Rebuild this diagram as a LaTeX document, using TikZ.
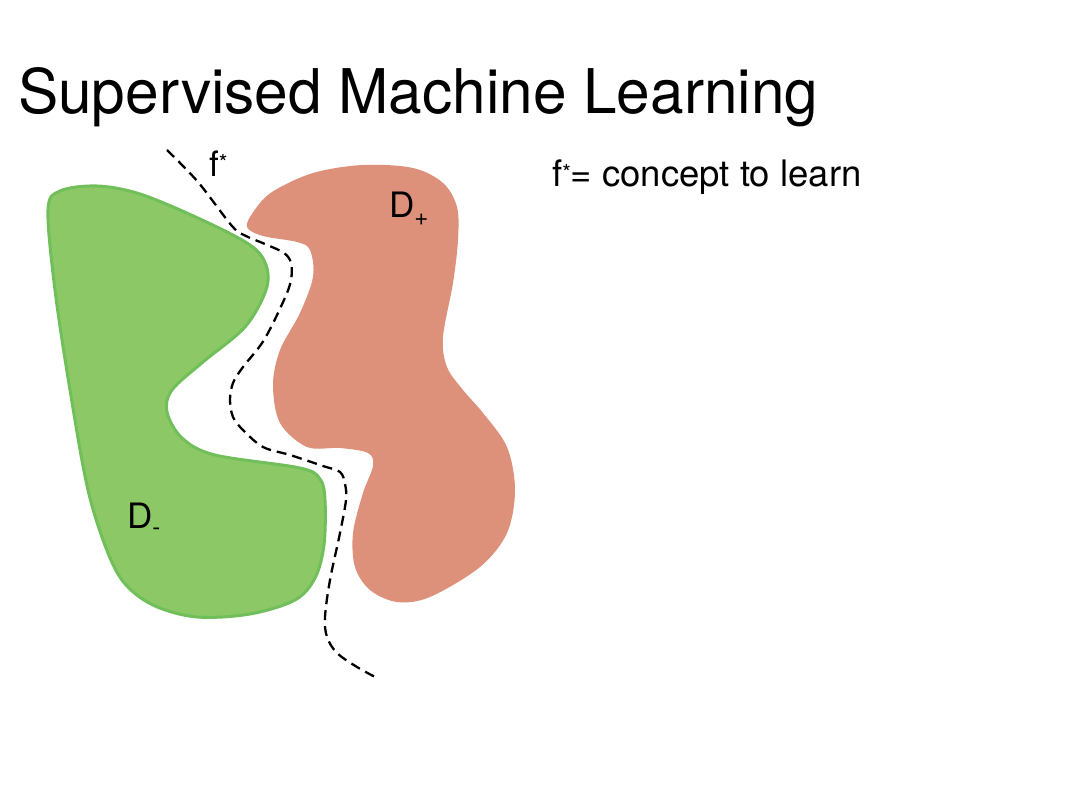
\documentclass[tikz,border=0pt]{standalone}
\usepackage{fontspec}
\usepackage{graphicx}
\setmainfont{TeX Gyre Heros}
\definecolor{negfill}{HTML}{8DC867}
\definecolor{negline}{HTML}{70BF5A}
\definecolor{posfill}{HTML}{DD917A}
\begin{document}
\begin{tikzpicture}[x=1pt,y=-1pt,
  region/.style={line join=round},
  boundary/.style={black,line width=2.3pt,dash pattern=on 10pt off 6pt},
  lbl/.style={inner sep=0pt,font=\fontsize{35}{40}\selectfont}]
\useasboundingbox (0,0) rectangle (1080,810);
\fill[white] (0,0) rectangle (1080,810);
% title
\node[inner sep=0pt,anchor=base west] (title) at (18,114)
  {\resizebox{800pt}{46pt}{\fontsize{60}{70}\selectfont Supervised Machine Learning}};
% D- region
\path[region,fill=negfill,draw=negline,line width=3pt]
  plot[smooth cycle,tension=0.55] coordinates {
  (48,210) (60,191) (97,186) (140,194) (200,219) (250,245) (266,265)
  (266,290) (245,327) (203,362) (172,390) (167,412) (182,438) (215,455)
  (300,468) (320,479) (325,500) (324,545) (315,578) (295,600) (250,614)
  (197,617) (155,606) (126,585) (108,553) (88,490) (70,390) (55,290)};
% D+ region
\path[region,fill=posfill]
  plot[smooth cycle,tension=0.55] coordinates {
  (247,227) (254,211) (272,192) (313,173) (363,165) (413,168) (443,183)
  (457,207) (458,240) (453,283) (443,337) (447,367) (463,390) (483,413)
  (507,447) (515,490) (507,533) (480,567) (430,597) (397,602) (370,590)
  (355,567) (353,533) (363,493) (373,466) (368,453) (340,448) (307,447)
  (280,423) (273,385) (280,350) (300,313) (313,277) (310,250) (297,242)
  (263,236)};
% concept boundary
\draw[boundary] plot[smooth,tension=0.55] coordinates {
  (167,150) (198,182) (232,226) (246,236) (265,244) (284,253) (291,263)
  (291,280) (284,300) (264,340) (243,367) (233,383) (230,400) (233,417)
  (243,430) (263,447) (290,455) (323,466) (340,472) (345,484) (346,500)
  (340,533) (330,580) (325,617) (327,637) (337,653) (357,667) (377,678)};
% labels
\node[lbl,anchor=base west] (fstar) at (209,177)
  {f\raisebox{6pt}{\fontsize{22}{22}\selectfont *}};
\node[lbl,anchor=base west] (dplus) at (389,218)
  {D\raisebox{-8pt}{\fontsize{24}{24}\selectfont +}};
\node[lbl,anchor=base west] (dminus) at (127,529)
  {D\raisebox{-6pt}{\fontsize{24}{24}\selectfont -}};
\node[lbl,anchor=base west,font=\fontsize{36.5}{40}\selectfont] (legend) at (552,187)
  {f\raisebox{6pt}{\fontsize{22}{22}\selectfont *}= concept to learn};
\end{tikzpicture}
\end{document}
